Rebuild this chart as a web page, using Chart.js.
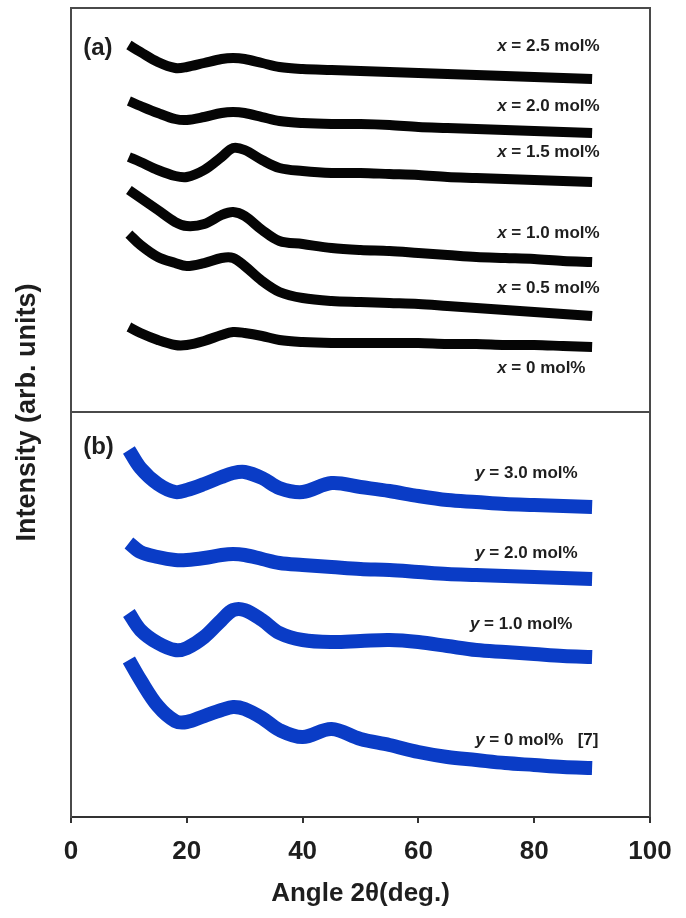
<!DOCTYPE html>
<html><head><meta charset="utf-8">
<script src="https://cdn.jsdelivr.net/npm/chart.js@4/dist/chart.umd.min.js"></script>
<style>html,body{margin:0;padding:0;background:#fff;}#wrap{width:686px;height:918px;}</style>
</head><body><div id="wrap"><canvas id="c" width="686" height="918"></canvas></div>
<script>
// Diffraction angle 2θ (deg.) sample positions
const angles = [10,12,15,18,20,23,26,28,30,33,36,40,45,50,55,60,65,70,75,80,85,90];
const xTickLabels = [0,20,40,60,80,100];
// Panel (a): intensities (arb. units, offset for display)
const a25 = [772,765,755,749,750,754,758,759,758,754,750,748,747,746,745,744,743,742,741,740,739,738];
const a20 = [716,711,704,698,697,700,704,705,704,700,696,694,693,693,692,690,689,688,687,686,685,684];
const a15 = [660,655,647,641,640,647,660,669,667,657,649,646,644,644,643,642,640,639,638,637,636,635];
const a10 = [627,619,607,595,591,593,602,605,601,587,576,573,569,567,566,564,562,560,559,558,556,555];
const a05 = [583,572,560,554,551,554,559,559,551,536,525,519,516,515,514,513,511,509,507,505,503,501];
const a00 = [490,484,477,472,472,476,482,485,484,481,477,475,474,474,474,474,473,473,472,472,471,470];
// Panel (b)
const b30 = [367,349,333,325,327,333,340,344,345,339,329,325,334,330,326,321,317,315,313,312,311,310];
const b20 = [274,265,260,257,257,259,262,263,262,258,254,252,250,248,247,245,243,242,241,240,239,238];
const b10 = [204,187,174,167,169,180,197,207,207,197,184,177,175,176,177,175,171,167,165,163,161,160];
const b00 = [157,137,111,96,95,101,107,110,108,99,87,80,88,78,72,65,60,57,54,52,50,49];
const panelDivider = 405;
const yMax = 809;

const seriesList = [
  {name:'x = 2.5 mol%', vals:a25, panel:'a'},
  {name:'x = 2.0 mol%', vals:a20, panel:'a'},
  {name:'x = 1.5 mol%', vals:a15, panel:'a'},
  {name:'x = 1.0 mol%', vals:a10, panel:'a'},
  {name:'x = 0.5 mol%', vals:a05, panel:'a'},
  {name:'x = 0 mol%', vals:a00, panel:'a'},
  {name:'y = 3.0 mol%', vals:b30, panel:'b'},
  {name:'y = 2.0 mol%', vals:b20, panel:'b'},
  {name:'y = 1.0 mol%', vals:b10, panel:'b'},
  {name:'y = 0 mol%', vals:b00, panel:'b'}
];

const BLACK = '#050505', BLUE = '#0a3cc6', FRAME = '#4a4a4a', TEXT = '#1e1e1e';

const datasets = seriesList.map(s => ({
  label: s.name,
  data: angles.map((a,i)=>({x:a, y:s.vals[i]})),
  borderColor: s.panel==='a' ? BLACK : BLUE,
  borderWidth: s.panel==='a' ? 10 : 14,
  pointRadius: 0,
  tension: 0.35,
  fill: false
}));

const F = '"Liberation Sans"';
const annotations = [
  {x:2.1, y:769, parts:[['(a)','bold 24px '+F]]},
  {x:2.1, y:370, parts:[['(b)','bold 24px '+F]]},
  {x:73.6, y:771, parts:[['x','italic bold 17px '+F],[' = 2.5 mol%','bold 17px '+F]]},
  {x:73.6, y:711, parts:[['x','italic bold 17px '+F],[' = 2.0 mol%','bold 17px '+F]]},
  {x:73.6, y:665, parts:[['x','italic bold 17px '+F],[' = 1.5 mol%','bold 17px '+F]]},
  {x:73.6, y:584, parts:[['x','italic bold 17px '+F],[' = 1.0 mol%','bold 17px '+F]]},
  {x:73.6, y:529, parts:[['x','italic bold 17px '+F],[' = 0.5 mol%','bold 17px '+F]]},
  {x:73.6, y:449, parts:[['x','italic bold 17px '+F],[' = 0 mol%','bold 17px '+F]]},
  {x:69.8, y:344, parts:[['y','italic bold 17px '+F],[' = 3.0 mol%','bold 17px '+F]]},
  {x:69.8, y:264, parts:[['y','italic bold 17px '+F],[' = 2.0 mol%','bold 17px '+F]]},
  {x:68.9, y:193, parts:[['y','italic bold 17px '+F],[' = 1.0 mol%','bold 17px '+F]]},
  {x:69.8, y:77, parts:[['y','italic bold 17px '+F],[' = 0 mol%   [7]','bold 17px '+F]]}
];

const framePlugin = {
  id:'frame',
  afterDraw(chart){
    const {ctx, chartArea:{left,right,top,bottom}, scales:{x,y}} = chart;
    ctx.save();
    ctx.strokeStyle = FRAME; ctx.lineWidth = 2;
    ctx.beginPath(); ctx.moveTo(left,top); ctx.lineTo(right,top); ctx.lineTo(right,bottom); ctx.stroke();
    const yd = y.getPixelForValue(panelDivider);
    ctx.beginPath(); ctx.moveTo(left,yd); ctx.lineTo(right,yd); ctx.stroke();
    ctx.fillStyle = TEXT; ctx.textBaseline = 'middle'; ctx.textAlign = 'left';
    annotations.forEach(a=>{
      let px = x.getPixelForValue(a.x); const py = y.getPixelForValue(a.y);
      a.parts.forEach(([t,f])=>{ ctx.font = f; ctx.fillText(t, px, py); px += ctx.measureText(t).width; });
    });
    ctx.restore();
  }
};

new Chart(document.getElementById('c'), {
  type:'line',
  data:{datasets},
  options:{
    responsive:false, animation:false, devicePixelRatio:1,
    layout:{padding:{left:0, right:36, top:8, bottom:11}},
    plugins:{legend:{display:false}, tooltip:{enabled:false}},
    scales:{
      x:{type:'linear', min:0, max:100,
        afterBuildTicks(s){ s.ticks = xTickLabels.map(v=>({value:v})); },
        ticks:{font:{family:F, size:26, weight:'bold', lineHeight:2.23}, color:TEXT, padding:0, maxRotation:0},
        grid:{display:true, drawOnChartArea:false, drawTicks:true, tickLength:6, color:'#333', lineWidth:2},
        border:{display:true, color:'#333', width:2},
        title:{display:true, text:'Angle 2\u03B8(deg.)', font:{family:F, size:26, weight:'bold', lineHeight:1.0}, color:TEXT, padding:{top:0, bottom:0}}
      },
      y:{type:'linear', min:0, max:yMax,
        ticks:{display:false},
        grid:{display:false, drawTicks:false},
        border:{display:true, color:FRAME, width:2},
        title:{display:true, text:'Intensity (arb. units)', font:{family:F, size:27, weight:'bold'}, color:TEXT, padding:{top:11.8, bottom:26.8}}
      }
    }
  },
  plugins:[framePlugin]
});
</script></body></html>
